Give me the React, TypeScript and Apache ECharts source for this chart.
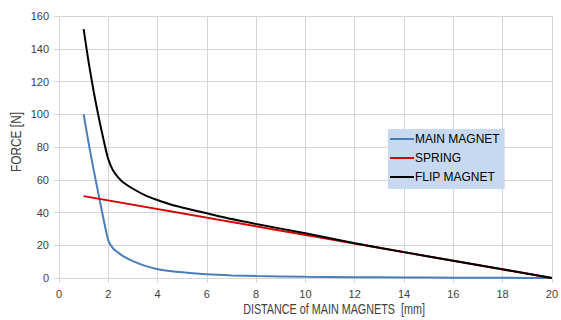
import React, { useEffect, useRef } from "react";
import * as echarts from "echarts";

const seriesNames = ["MAIN MAGNET", "SPRING", "FLIP MAGNET"];

const mainX = [1, 1.2, 1.4, 1.6, 1.8, 2, 2.2, 2.4, 2.6, 3, 3.5, 4, 4.5, 5, 6, 7, 8, 10, 12, 14, 16, 18, 20];
const mainY = [100, 82.6, 66.5, 51.4, 36.5, 23, 18, 15.5, 13.4, 10.3, 7.4, 5.4, 4.3, 3.5, 2.3, 1.6, 1.2, 0.8, 0.5, 0.3, 0.2, 0.1, 0];

const springX = [1, 20];
const springY = [50, 0];

const flipX = [1, 1.2, 1.4, 1.6, 1.8, 2, 2.2, 2.4, 2.6, 3, 3.5, 4, 4.5, 5, 6, 7, 8, 10, 12, 14, 16, 18, 20];
const flipY = [152, 132, 114.5, 99, 85, 72.5, 65.5, 61.5, 58.5, 54.5, 50.5, 47.6, 45, 43, 39.5, 36, 33, 27.3, 21.2, 15.8, 10.6, 5.3, 0];

const xTitle = "DISTANCE of MAIN MAGNETS  [mm]";
const yTitle = "FORCE [N]";

const pairs = (xs: number[], ys: number[]) => xs.map((x, i) => [x, ys[i]]);

export default function App() {
  const ref = useRef<HTMLDivElement>(null);
  useEffect(() => {
    if (!ref.current) return;
    const chart = echarts.init(ref.current, null, { renderer: "svg" });
    const font = "Liberation Sans";
    const gridColor = "#d4d4d4";
    chart.setOption({
      animation: false,
      grid: { left: 59, right: 5, top: 16, bottom: 42 },
      xAxis: {
        type: "value",
        min: 0,
        max: 20,
        interval: 2,
        axisLine: { show: true, lineStyle: { color: gridColor } },
        axisTick: { show: true, length: 5, lineStyle: { color: gridColor } },
        splitLine: { show: true, lineStyle: { color: gridColor } },
        axisLabel: { color: "#404040", fontFamily: font, fontSize: 11, margin: 10 },
      },
      yAxis: {
        type: "value",
        min: 0,
        max: 160,
        interval: 20,
        axisLine: { show: true, lineStyle: { color: gridColor } },
        axisTick: { show: true, length: 5, lineStyle: { color: gridColor } },
        splitLine: { show: true, lineStyle: { color: gridColor } },
        axisLabel: { color: "#404040", fontFamily: font, fontSize: 11, margin: 10 },
      },
      legend: {
        orient: "vertical",
        left: 388,
        top: 129,
        icon: "rect",
        itemWidth: 24,
        itemHeight: 2,
        itemGap: 7,
        padding: [4, 5, 6, 2],
        backgroundColor: "#c6d9f1",
        textStyle: { color: "#000", fontFamily: font, fontSize: 12, padding: [0, 0, 0, -4], lineHeight: 12 },
        data: seriesNames,
      },
      graphic: [
        {
          type: "text",
          x: 334,
          y: 310,
          scaleX: 0.77,
          style: {
            text: xTitle,
            fill: "#404040",
            font: `14px '${font}'`,
            textAlign: "center",
            textVerticalAlign: "middle",
          },
        },
        {
          type: "text",
          x: 16,
          y: 142,
          rotation: Math.PI / 2,
          scaleX: 0.85,
          style: {
            text: yTitle,
            fill: "#404040",
            font: `14px '${font}'`,
            textAlign: "center",
            textVerticalAlign: "middle",
          },
        },
      ],
      series: [
        {
          name: seriesNames[0],
          type: "line",
          data: pairs(mainX, mainY),
          symbol: "none",
          smooth: 0.25,
          lineStyle: { color: "#4a7ebb", width: 2 },
          itemStyle: { color: "#4a7ebb" },
        },
        {
          name: seriesNames[1],
          type: "line",
          data: pairs(springX, springY),
          symbol: "none",
          lineStyle: { color: "#d40000", width: 2 },
          itemStyle: { color: "#d40000" },
        },
        {
          name: seriesNames[2],
          type: "line",
          data: pairs(flipX, flipY),
          symbol: "none",
          smooth: 0.25,
          lineStyle: { color: "#000000", width: 2 },
          itemStyle: { color: "#000000" },
        },
      ],
    });
    return () => chart.dispose();
  }, []);
  return <div ref={ref} style={{ width: 561, height: 320, position: "absolute", left: 0, top: 0 }} />;
}
